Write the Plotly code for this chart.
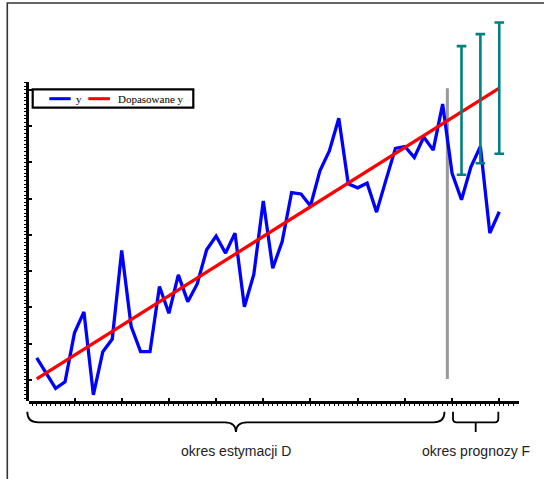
import plotly.graph_objects as go

# ---------------- data ----------------
t = list(range(1, 51))
y = [1.61, 1.20, 0.77, 0.95, 2.30, 2.88, 0.59, 1.78, 2.13, 4.57,
     2.48, 1.78, 1.78, 3.58, 2.84, 3.90, 3.16, 3.65, 4.59, 4.97,
     4.50, 5.05, 3.02, 3.92, 5.94, 4.08, 4.82, 6.17, 6.13, 5.80,
     6.77, 7.32, 8.22, 6.41, 6.30, 6.43, 5.63, 6.52, 7.39, 7.44,
     7.14, 7.70, 7.34, 8.61, 6.70, 5.97, 6.88, 7.44, 5.05, 5.64]
fit_t = [1, 50]
fit_y = [1.03, 9.05]
pi_t = [46, 48, 50]
pi_lo = [6.66, 6.98, 7.24]
pi_hi = [10.21, 10.54, 10.86]
split_t = 44.5
est_period = [0.0, 44.2]
fc_period = [45.1, 49.9]
period_labels = ["okres estymacji D", "okres prognozy F"]
series_names = ["y", "Dopasowane y"]

# ---------------- layout geometry ----------------
W, H = 544, 479
PL, PR, PT, PB = 29, 519, 12, 401          # plot area in pixels
PW, PH = PR - PL, PB - PT
XMIN, XMAX = 0.18, 52.09
YMIN, YMAX = 0.42, 11.15
YAX_TOP = 9.23                               # top of drawn y axis line

BLUE, RED, TEAL, GRAY = "#0000FF", "#FF0000", "#008080", "#999999"


def xp(px):
    return (px - PL) / PW


def yp(py):
    return (PB - py) / PH


def tx(tv):
    return PL + (tv - XMIN) / (XMAX - XMIN) * PW


def path(pts_cmds):
    out = []
    for cmd in pts_cmds:
        c, *pts = cmd
        s = c
        for (px, py) in pts:
            s += " %.4f,%.4f" % (xp(px), yp(py))
        out.append(s)
    return " ".join(out)


fig = go.Figure()

# split line
fig.add_trace(go.Scatter(x=[split_t, split_t], y=[min(fit_y), max(fit_y)],
                         mode="lines", line=dict(color=GRAY, width=3),
                         showlegend=False, hoverinfo="skip"))
# actual series
fig.add_trace(go.Scatter(x=t, y=y, mode="lines", name=series_names[0],
                         line=dict(color=BLUE, width=3.3), showlegend=False))
# fitted line
fig.add_trace(go.Scatter(x=fit_t, y=fit_y, mode="lines", name=series_names[1],
                         line=dict(color=RED, width=3.3), showlegend=False))
# prediction intervals
pi_c = [(a + b) / 2 for a, b in zip(pi_lo, pi_hi)]
fig.add_trace(go.Scatter(
    x=pi_t, y=pi_c, mode="markers", marker=dict(size=2, opacity=0),
    error_y=dict(type="data", symmetric=False,
                 array=[h - c for h, c in zip(pi_hi, pi_c)],
                 arrayminus=[c - l for c, l in zip(pi_c, pi_lo)],
                 color=TEAL, thickness=2.6, width=4.8),
    showlegend=False, hoverinfo="skip"))
# dummy trace for the short left axis
fig.add_trace(go.Scatter(x=[None], y=[None], xaxis="x", yaxis="y2",
                         showlegend=False, hoverinfo="skip"))

shapes = []
# outer frame (its right and bottom edges lie outside the picture)
shapes.append(dict(type="rect", xref="paper", yref="paper",
                   x0=xp(7.3), x1=xp(W + 10), y0=yp(3.0), y1=yp(H + 10),
                   line=dict(color="#333333", width=1.6), fillcolor="rgba(0,0,0,0)",
                   layer="below"))

# braces
ytop, ymid, ytip = 411.7, 422.3, 432.0
a, b = tx(est_period[0]), tx(est_period[1])
c = (a + b) / 2
r = 11
shapes.append(dict(type="path", xref="paper", yref="paper",
                   path=path([("M", (a, ytop)), ("Q", (a, ymid), (a + r, ymid)),
                              ("L", (c - r, ymid)), ("Q", (c, ymid), (c, ytip)),
                              ("Q", (c, ymid), (c + r, ymid)),
                              ("L", (b - r, ymid)), ("Q", (b, ymid), (b, ytop))]),
                   line=dict(color="black", width=1.8)))
a2, b2 = tx(fc_period[0]), tx(fc_period[1])
c2 = (a2 + b2) / 2
r2 = 3.5
shapes.append(dict(type="path", xref="paper", yref="paper",
                   path=path([("M", (a2, ytop)), ("L", (a2, ymid - r2)),
                              ("Q", (a2, ymid), (a2 + r2, ymid)),
                              ("L", (b2 - r2, ymid)), ("Q", (b2, ymid), (b2, ymid - r2)),
                              ("L", (b2, ytop)),
                              ("M", (c2, ymid)), ("L", (c2, ytip))]),
                   line=dict(color="black", width=1.8)))

# manual legend
shapes.append(dict(type="rect", xref="paper", yref="paper",
                   x0=xp(32.7), x1=xp(193.3), y0=yp(89.3), y1=yp(107.7),
                   line=dict(color="black", width=2.2), fillcolor="white"))
shapes.append(dict(type="line", xref="paper", yref="paper",
                   x0=xp(49.3), x1=xp(70.7), y0=yp(98.7), y1=yp(98.7),
                   line=dict(color=BLUE, width=3)))
shapes.append(dict(type="line", xref="paper", yref="paper",
                   x0=xp(88.3), x1=xp(110), y0=yp(98.7), y1=yp(98.7),
                   line=dict(color=RED, width=3)))

annotations = [
    dict(x=xp(73.5), y=yp(98.7), xref="paper", yref="paper", text=series_names[0],
         showarrow=False, xanchor="left", yanchor="middle",
         font=dict(family="Liberation Serif, Times New Roman, serif", size=11, color="black")),
    dict(x=xp(116.3), y=yp(98.7), xref="paper", yref="paper", text=series_names[1],
         showarrow=False, xanchor="left", yanchor="middle",
         font=dict(family="Liberation Serif, Times New Roman, serif", size=11, color="black")),
    dict(x=xp(c), y=yp(451), xref="paper", yref="paper", text=period_labels[0],
         showarrow=False, xanchor="center", yanchor="middle",
         font=dict(family="Liberation Sans, Arial, sans-serif", size=14, color="#222222")),
    dict(x=xp(c2), y=yp(451), xref="paper", yref="paper", text=period_labels[1],
         showarrow=False, xanchor="center", yanchor="middle",
         font=dict(family="Liberation Sans, Arial, sans-serif", size=14, color="#222222")),
]

fig.update_layout(
    width=W, height=H, autosize=False,
    margin=dict(l=PL, r=W - PR, t=PT, b=H - PB, pad=0),
    paper_bgcolor="white", plot_bgcolor="rgba(0,0,0,0)",
    showlegend=False,
    xaxis=dict(range=[XMIN, XMAX], anchor="y", showgrid=False, zeroline=False,
               showline=True, linecolor="black", linewidth=2.5,
               ticks="inside", ticklen=3, tickwidth=2, tickcolor="black",
               tickmode="linear", tick0=0, dtick=5, showticklabels=False,
               minor=dict(ticks="outside", ticklen=2, tickwidth=1, tickcolor="black",
                          tickmode="linear", tick0=0, dtick=0.5)),
    yaxis=dict(range=[YMIN, YMAX], visible=False, showgrid=False, zeroline=False),
    yaxis2=dict(range=[YMIN, YAX_TOP], anchor="x", side="left",
                domain=[0, (YAX_TOP - YMIN) / (YMAX - YMIN)],
                showgrid=False, zeroline=False,
                showline=True, linecolor="black", linewidth=2.5,
                ticks="inside", ticklen=3, tickwidth=2, tickcolor="black",
                tickmode="linear", tick0=1, dtick=1, showticklabels=False,
                minor=dict(ticks="outside", ticklen=2, tickwidth=1, tickcolor="black",
                           tickmode="linear", tick0=0, dtick=0.1)),
    shapes=shapes,
    annotations=annotations,
)

fig.write_html(
    "out.html",
    config={"displayModeBar": False},
    post_script="document.body.style.margin='0px';document.body.style.overflow='hidden';",
)
